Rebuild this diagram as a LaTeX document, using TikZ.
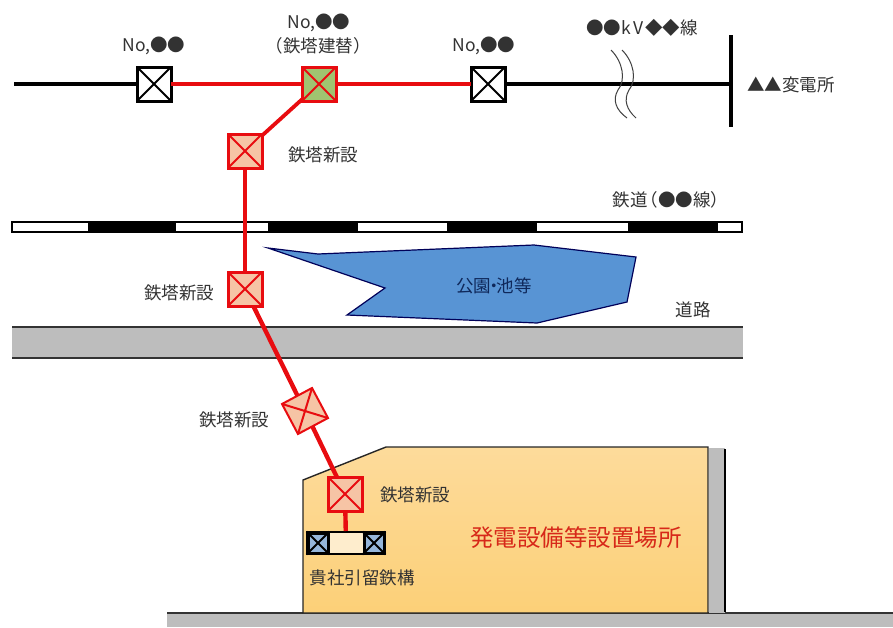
\documentclass[tikz,border=0pt]{standalone}
\usepackage{fontspec}
\setmainfont{Noto Sans CJK JP}
\usetikzlibrary{shadings}
\definecolor{lred}{RGB}{232,12,16}
\definecolor{sitetop}{RGB}{253,219,155}
\definecolor{sitebot}{RGB}{252,208,120}
\definecolor{roadg}{RGB}{189,189,189}
\definecolor{pondb}{RGB}{88,148,212}
\definecolor{newf}{RGB}{246,196,165}
\definecolor{repf}{RGB}{160,196,112}
\definecolor{beamf}{RGB}{150,182,218}
\definecolor{lbltxt}{RGB}{50,50,50}
\tikzset{
 x=1pt,y=-1pt,
 tower/.style={draw,line width=3pt,minimum size=34pt,inner sep=0pt,outer sep=0pt,rectangle},
 oldt/.style={tower,draw=black,fill=white},
 redt/.style={tower,draw=lred,fill=newf},
 greent/.style={tower,draw=lred,fill=repf},
 beamt/.style={draw=black,line width=3pt,fill=beamf,minimum size=20pt,inner sep=0pt},
 lbl/.style={font=\fontsize{17.5}{20}\selectfont,text=lbltxt,inner sep=0pt},
 wire/.style={line width=3.8pt},
 rwire/.style={line width=4.4pt,lred},
}
\newcommand{\xbox}[2]{\draw[#2,line width=2pt] (#1.north west)--(#1.south east) (#1.north east)--(#1.south west);}
\begin{document}
\begin{tikzpicture}
\useasboundingbox (0,0) rectangle (893,627);
% bottom road and site
\fill[roadg] (167,613) rectangle (893,627);
\draw[line width=1.2pt,black!80] (167,613)--(893,613);
\fill[roadg] (709,448) rectangle (725,613);
\draw[line width=2.4pt] (725,449)--(725,612);
\draw[black!85,top color=sitetop,bottom color=sitebot,line width=1.4pt] (303,613)--(303,480)--(386,447)--(708,447)--(708,613)--cycle;
% road middle
\fill[roadg] (12,327) rectangle (743,358);
\draw[line width=1.2pt,black!80] (12,327)--(743,327);
\draw[line width=1.6pt,black!80] (12,358)--(743,358);
% rail
\draw[line width=1.2pt,fill=white] (12,222) rectangle (742,232);
\foreach \a/\b in {88/176,268/358,447/537,628/718}{\fill (\a,222) rectangle (\b,232);}
% pond
\draw[fill=pondb,draw=black!65!blue,line width=1.2pt] (268,248)--(318,254)--(534,245)--(636,257)--(627,302)--(537,323)--(347,315)--(385,288)--cycle;
\node[lbl,text={rgb,255:red,15;green,40;blue,90}] (pond) at (494,286) {公園\kern-.33em・\kern-.33em池等};
% nodes
\node[oldt] (a) at (154,84) {}; \xbox{a}{black}
\node[greent] (b) at (319,84) {}; \xbox{b}{lred}
\node[oldt] (c) at (488,84) {}; \xbox{c}{black}
\node[redt] (d) at (245,151) {}; \xbox{d}{lred}
\node[redt] (e) at (245,289) {}; \xbox{e}{lred}
\node[redt,rotate=28,minimum size=34pt,line width=2pt] (f) at (305,411) {}; \xbox{f}{lred}
\node[redt] (g) at (345,494) {}; \xbox{g}{lred}
\coordinate (w0) at (14,84);
\coordinate (bus) at (731,84);
\coordinate (bt) at (731,35);
\coordinate (bb) at (731,127);
% wires
\draw[wire] (w0)--(a);
\draw[wire,lred] (a)--(b);
\draw[wire,lred] (b)--(c);
\draw[wire] (c)--(bus);
\draw[line width=3.6pt] (bt)--(bb);
\draw[rwire,line width=3.8pt] (b)--(d);
\draw[rwire,line width=3.8pt] (d)--(e);
\draw[rwire] (e)--(f);
\draw[rwire] (f)--(g);
% break marks
\draw[line width=1pt,black!75] (611,50) .. controls (623,62) and (626,80) .. (618,90) .. controls (612,100) and (616,110) .. (627,118);
\draw[line width=1pt,black!75] (622,50) .. controls (634,62) and (637,80) .. (629,90) .. controls (623,100) and (627,110) .. (636,118);
% beam
\node[draw=black,line width=2pt,fill=sitetop!50!white,minimum width=78pt,minimum height=22pt,inner sep=0pt] (beam) at (346,543) {};
\draw[rwire] (g)--(beam);
\node[beamt] (bl) at (318,543) {}; \xbox{bl}{black}
\node[beamt] (br) at (374,543) {}; \xbox{br}{black}
% labels
\node[lbl] (t1) at (154,46) {No,●●};
\node[lbl] (t2) at (319,23) {No,●●};
\node[lbl] (t3) at (318,46) {（鉄塔建替）};
\node[lbl] (t4) at (484,46) {No,●●};
\node[lbl] (t5) at (642,28) {●●k\kern.12em V\kern.12em◆◆線};
\node[lbl] (t6) at (791,85) {▲▲変電所};
\node[lbl] (t7) at (323,155) {鉄塔新設};
\node[lbl] (t8) at (179,293) {鉄塔新設};
\node[lbl] (t9) at (234,420) {鉄塔新設};
\node[lbl] (t10) at (415,495) {鉄塔新設};
\node[lbl] (t11) at (362,578) {貴社引留鉄構};
\node[lbl] (t12) at (667,200) {鉄道\kern-.4em（●●線）\kern-.4em};
\node[lbl] (t13) at (693,310) {道路};
\node[lbl,font=\fontsize{23.5}{26}\selectfont,text={rgb,255:red,215;green,40;blue,25}] (t14) at (576,538) {発電設備等設置場所};
\end{tikzpicture}
\end{document}
